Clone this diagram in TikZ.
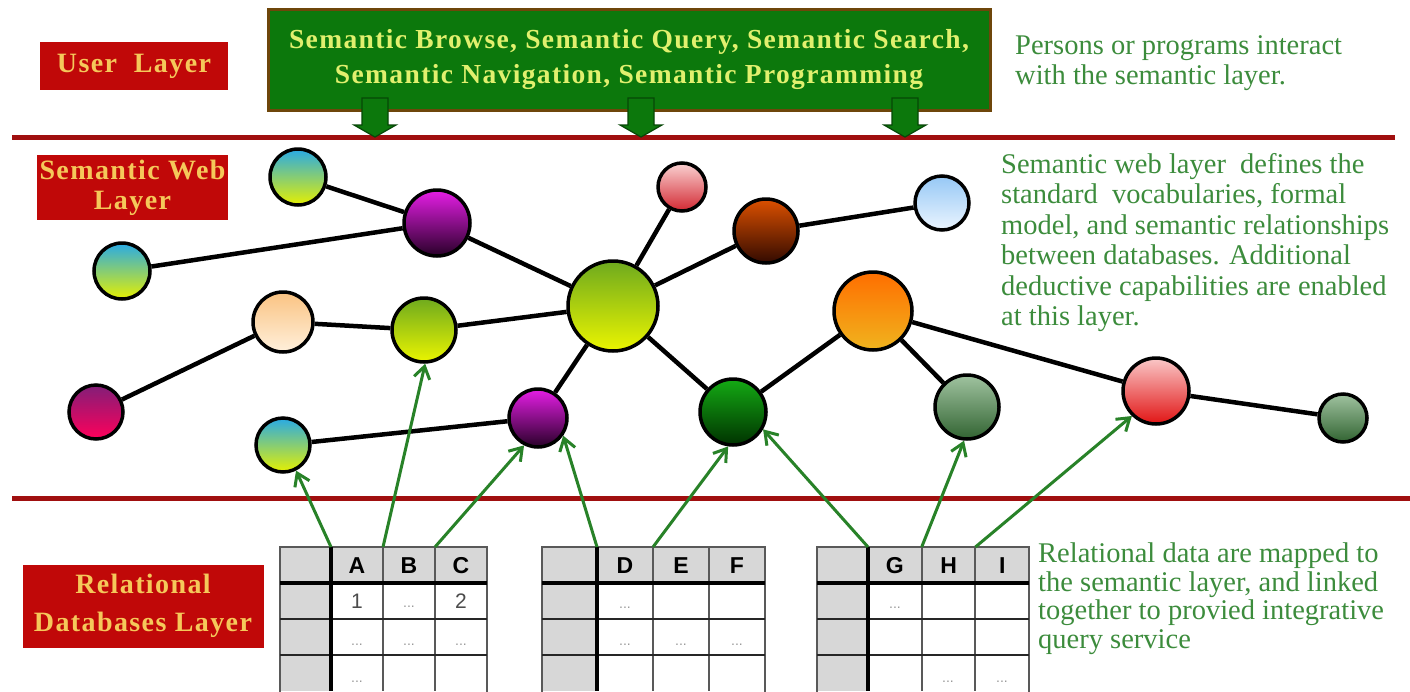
\documentclass[tikz,border=0pt]{standalone}
\usepackage{fontspec}
\setmainfont{Liberation Serif}
\setsansfont{Liberation Sans}
\newfontfamily\spacedserif[LetterSpace=5]{Liberation Serif}
\usepackage{tikz}
\usetikzlibrary{arrows.meta}

\definecolor{rulered}{RGB}{160,15,15}
\definecolor{layerred}{RGB}{192,8,8}
\definecolor{labelgold}{RGB}{245,200,90}
\definecolor{boxgreen}{RGB}{12,120,12}
\definecolor{boxedge}{RGB}{110,70,10}
\definecolor{boxtext}{RGB}{225,240,110}
\definecolor{notegreen}{RGB}{60,140,60}
\definecolor{mapgreen}{RGB}{40,130,40}
\definecolor{cellgray}{RGB}{215,215,215}

\tikzset{
  layerbox/.style={fill=layerred,text=labelgold,align=center,inner sep=0pt,
    font=\spacedserif\bfseries\fontsize{28}{30}\selectfont},
  ball/.style={circle,draw=black,line width=3.5pt,inner sep=0pt},
  link/.style={line width=4.5pt,black},
  maplink/.style={draw=mapgreen,line width=3pt,-{Straight Barb[length=12pt,width=16pt]}},
  note/.style={text=notegreen,align=left,anchor=north west,inner sep=0pt,
    font=\fontsize{28.5}{30.5}\selectfont},
  rule/.style={draw=rulered,line width=5pt},
  downarrow/.style={fill=boxgreen,draw=boxgreen!60!black,line width=1.2pt},
  gridthin/.style={draw=black!65,line width=2pt},
  gridrow/.style={draw=black!85,line width=2.5pt},
  gridthick/.style={draw=black,line width=3.5pt},
  headtxt/.style={font=\sffamily\bfseries\fontsize{23}{23}\selectfont,inner sep=0pt},
  celltxt/.style={font=\sffamily\fontsize{21}{21}\selectfont,text=black!70,inner sep=0pt},
  dots/.style={font=\sffamily\fontsize{14}{14}\selectfont,text=black!40,inner sep=0pt}
}

\begin{document}
\begin{tikzpicture}[x=1pt,y=-1pt]
  \useasboundingbox[fill=white] (0,0) rectangle (1410,691);

  \draw[rule] (12,137) -- (1395,137);
  \draw[rule] (12,498) -- (1410,498);

  \node[fill=boxgreen,draw=boxedge,line width=3pt,minimum width=722pt,minimum height=101pt,
    align=center,text=boxtext,font=\spacedserif\bfseries\fontsize{27.5}{35}\selectfont]
    (services) at (629,59.5) {Semantic Browse, Semantic Query, Semantic Search,\\Semantic Navigation, Semantic Programming};
  \draw[downarrow] (362,98) -- ++(26,0) -- ++(0,27) -- ++(8,0) -- ++(-21,12) -- ++(-21,-12) -- ++(8,0) -- cycle;
  \draw[downarrow] (628,98) -- ++(26,0) -- ++(0,27) -- ++(8,0) -- ++(-21,12) -- ++(-21,-12) -- ++(8,0) -- cycle;
  \draw[downarrow] (892,98) -- ++(26,0) -- ++(0,27) -- ++(8,0) -- ++(-21,12) -- ++(-21,-12) -- ++(8,0) -- cycle;

  \node[layerbox,minimum width=188pt,minimum height=48pt] (userlayer) at (134,66) {User\ \ Layer};
  \node[layerbox,minimum width=191pt,minimum height=65pt] (weblayer) at (132.5,187.5) {Semantic Web\\Layer};
  \node[layerbox,minimum width=241pt,minimum height=83pt,font=\spacedserif\bfseries\fontsize{28}{38}\selectfont]
    (dblayer) at (143,606) {Relational\\Databases Layer};

  \node[ball,minimum size=56pt,top color={rgb,255:red,40;green,170;blue,230},bottom color={rgb,255:red,230;green,240;blue,0}] (cyanA) at (298,177) {};
  \node[ball,minimum size=66pt,top color={rgb,255:red,230;green,30;blue,230},bottom color={rgb,255:red,40;green,0;blue,40}] (purpleA) at (437,223) {};
  \node[ball,minimum size=56pt,top color={rgb,255:red,40;green,170;blue,230},bottom color={rgb,255:red,230;green,240;blue,0}] (cyanB) at (122,271) {};
  \node[ball,minimum size=60pt,top color={rgb,255:red,250;green,195;blue,130},bottom color={rgb,255:red,255;green,240;blue,220}] (peach) at (283,322) {};
  \node[ball,minimum size=64pt,top color={rgb,255:red,110;green,170;blue,30},bottom color={rgb,255:red,235;green,245;blue,0}] (limeA) at (424,330) {};
  \node[ball,minimum size=54pt,top color={rgb,255:red,130;green,30;blue,120},bottom color={rgb,255:red,255;green,0;blue,90}] (magenta) at (96,412) {};
  \node[ball,minimum size=54pt,top color={rgb,255:red,40;green,170;blue,230},bottom color={rgb,255:red,230;green,240;blue,0}] (cyanC) at (283,445) {};
  \node[ball,minimum size=58pt,top color={rgb,255:red,230;green,30;blue,230},bottom color={rgb,255:red,40;green,0;blue,40}] (purpleB) at (538,418) {};
  \node[ball,minimum size=90pt,top color={rgb,255:red,110;green,170;blue,30},bottom color={rgb,255:red,235;green,245;blue,0}] (hub) at (613,306) {};
  \node[ball,minimum size=48pt,top color={rgb,255:red,250;green,210;blue,210},bottom color={rgb,255:red,210;green,40;blue,50}] (pink) at (682,187) {};
  \node[ball,minimum size=64pt,top color={rgb,255:red,220;green,80;blue,0},bottom color={rgb,255:red,50;green,10;blue,0}] (brown) at (766,231) {};
  \node[ball,minimum size=54pt,top color={rgb,255:red,150;green,200;blue,245},bottom color={rgb,255:red,235;green,245;blue,255}] (skyblue) at (942,203) {};
  \node[ball,minimum size=66pt,top color={rgb,255:red,20;green,170;blue,20},bottom color={rgb,255:red,0;green,50;blue,0}] (darkgreen) at (733,412) {};
  \node[ball,minimum size=78pt,top color={rgb,255:red,255;green,110;blue,0},bottom color={rgb,255:red,240;green,180;blue,30}] (orange) at (873,311) {};
  \node[ball,minimum size=64pt,top color={rgb,255:red,160;green,195;blue,160},bottom color={rgb,255:red,50;green,100;blue,50}] (sage) at (967,407) {};
  \node[ball,minimum size=66pt,top color={rgb,255:red,250;green,200;blue,200},bottom color={rgb,255:red,225;green,20;blue,20}] (rose) at (1156,391) {};
  \node[ball,minimum size=48pt,top color={rgb,255:red,160;green,195;blue,160},bottom color={rgb,255:red,50;green,100;blue,50}] (sageB) at (1343,418) {};

  \draw[link] (cyanA) -- (purpleA);
  \draw[link] (cyanB) -- (purpleA);
  \draw[link] (purpleA) -- (hub);
  \draw[link] (magenta) -- (peach);
  \draw[link] (peach) -- (limeA);
  \draw[link] (limeA) -- (hub);
  \draw[link] (cyanC) -- (purpleB);
  \draw[link] (purpleB) -- (hub);
  \draw[link] (pink) -- (hub);
  \draw[link] (brown) -- (hub);
  \draw[link] (brown) -- (skyblue);
  \draw[link] (hub) -- (darkgreen);
  \draw[link] (darkgreen) -- (orange);
  \draw[link] (orange) -- (sage);
  \draw[link] (orange) -- (rose);
  \draw[link] (rose) -- (sageB);

  \foreach \n/\tx/\fx/\cw/\ha/\hb/\hc in {a/280/331/52/A/B/C,b/542/597/56/D/E/F,c/817/868/53.7/G/H/I}{
    \fill[cellgray] (\tx,547) rectangle ({\fx+3*\cw},583);
    \fill[cellgray] (\tx,583) rectangle (\fx,691);
    \draw[gridthin] (\tx,700) -- (\tx,547) -- ({\fx+3*\cw},547) -- ({\fx+3*\cw},700);
    \draw[gridthin] ({\fx+\cw},547) -- ({\fx+\cw},691);
    \draw[gridthin] ({\fx+2*\cw},547) -- ({\fx+2*\cw},691);
    \draw[gridrow] (\tx,619) -- ({\fx+3*\cw},619);
    \draw[gridrow] (\tx,655) -- ({\fx+3*\cw},655);
    \draw[gridthick] (\tx,583) -- ({\fx+3*\cw},583);
    \draw[gridthick] (\fx,547) -- (\fx,691);
    \node[headtxt] (\n-ha) at ({\fx+0.5*\cw},566) {\ha};
    \node[headtxt] (\n-hb) at ({\fx+1.5*\cw},566) {\hb};
    \node[headtxt] (\n-hc) at ({\fx+2.5*\cw},566) {\hc};
    \coordinate (\n1) at (\fx,547);
    \coordinate (\n2) at ({\fx+\cw},547);
    \coordinate (\n3) at ({\fx+2*\cw},547);
  }
  \node[celltxt] (a-one) at (357,601) {1};
  \node[dots] (a-d1) at (409,607) {...};
  \node[celltxt] (a-two) at (461,601) {2};
  \node[dots] (a-d2) at (357,645) {...};
  \node[dots] (a-d3) at (409,645) {...};
  \node[dots] (a-d4) at (461,645) {...};
  \node[dots] (a-d5) at (357,682) {...};
  \node[dots] (b-d1) at (625,608) {...};
  \node[dots] (b-d2) at (625,645) {...};
  \node[dots] (b-d3) at (681,645) {...};
  \node[dots] (b-d4) at (737,645) {...};
  \node[dots] (c-d1) at (895,608) {...};
  \node[dots] (c-d2) at (948,682) {...};
  \node[dots] (c-d3) at (1002,682) {...};

  \draw[maplink] (a1) -- (cyanC.-63);
  \draw[maplink] (a2) -- (limeA.-88);
  \draw[maplink] (a3) -- (purpleB.-117);
  \draw[maplink] (b1) -- (purpleB.-35);
  \draw[maplink] (b2) -- (darkgreen.-98);
  \draw[maplink] (c1) -- (darkgreen.-30);
  \draw[maplink] (c2) -- (sage.-95);
  \draw[maplink] (c3) -- (rose.-134);

  \node[note] (usernote) at (1015,35) {Persons or programs interact\\with the semantic layer.};
  \node[note] (webnote) at (1001,153) {Semantic web layer\ \ defines the\\standard\ \ vocabularies, formal\\model, and semantic relationships\\between databases. Additional\\deductive capabilities are enabled\\at this layer.};
  \node[note,font=\fontsize{28.5}{28.5}\selectfont] (dbnote) at (1038,543) {Relational data are mapped to\\the semantic layer, and linked\\together to provied integrative\\query service};
\end{tikzpicture}
\end{document}
